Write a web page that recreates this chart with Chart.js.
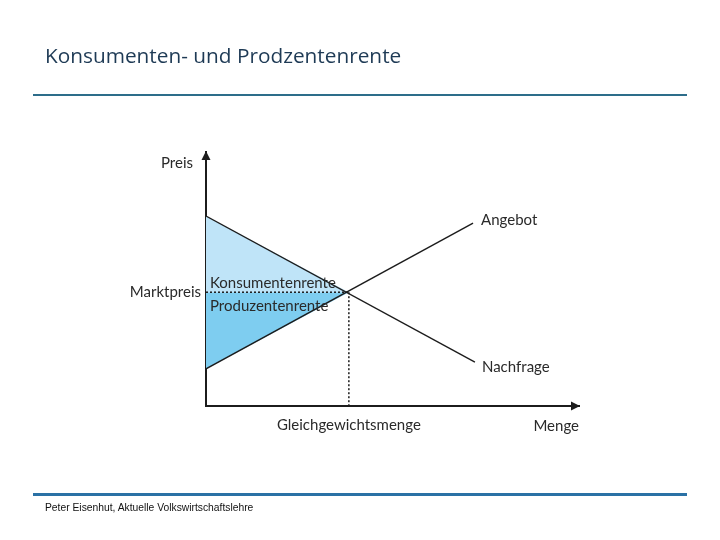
<!DOCTYPE html>
<html>
<head>
<meta charset="utf-8">
<script src="https://cdn.jsdelivr.net/npm/chart.js@4.4.1/dist/chart.umd.min.js"></script>
<style>
  html, body { margin: 0; padding: 0; background: #ffffff; }
  #wrap { position: relative; width: 720px; height: 540px; overflow: hidden; }
  #c { position: absolute; left: 0; top: 0; }
  .title { position: absolute; left: 45px; top: 45px; font: 20.8px "Open Sans", "Liberation Sans", sans-serif; line-height: 20px; color: #1e3a55; white-space: nowrap; }
  .rule-top { position: absolute; left: 33px; top: 94px; width: 654px; height: 2px; background: #2d6d8a; }
  .rule-bottom { position: absolute; left: 33px; top: 493px; width: 654px; height: 3px; background: #2a71a5; }
  .footer { position: absolute; left: 45px; top: 503px; font: 10.3px "Liberation Sans", Arial, sans-serif; line-height: 10px; color: #111; white-space: nowrap; }
</style>
</head>
<body>
<div id="wrap">
  <canvas id="c" width="720" height="540"></canvas>
  <div class="title">Konsumenten- und Prodzentenrente</div>
  <div class="rule-top"></div>
  <div class="rule-bottom"></div>
  <div class="footer">Peter Eisenhut, Aktuelle Volkswirtschaftslehre</div>
</div>
<script>
// ---- data ----
const quantityRange = [0, 100];
const priceRange = [0, 100];
const demandQty = [0, 72.1];
const demandPrice = [74.8, 17.3];
const supplyQty = [0, 71.6];
const supplyPrice = [14.6, 72.0];
const equilibriumQty = 38.3;
const equilibriumPrice = 44.8;
const xTickLabels = ['Gleichgewichtsmenge'];
const yTickLabels = ['Marktpreis'];
const axisTitles = ['Menge', 'Preis'];
const curveLabels = ['Nachfrage', 'Angebot'];
const surplusLabels = ['Konsumentenrente', 'Produzentenrente'];

const FONT = 'Lato, "Liberation Sans", sans-serif';
const TEXT = '#2a2a2a';
const INK = '#1c1c1c';

const pts = (xs, ys) => xs.map((x, i) => ({ x: x, y: ys[i] }));

const consumerTri = [{ x: demandQty[0], y: demandPrice[0] }, { x: equilibriumQty, y: equilibriumPrice }];
const producerTri = [{ x: supplyQty[0], y: supplyPrice[0] }, { x: equilibriumQty, y: equilibriumPrice }];

const decorPlugin = {
  id: 'decor',
  afterDatasetsDraw(chart) {
    const ctx = chart.ctx;
    const xs = chart.scales.x, ys = chart.scales.y;
    const x0 = xs.getPixelForValue(quantityRange[0]);
    const x1 = xs.getPixelForValue(quantityRange[1]);
    const y0 = ys.getPixelForValue(priceRange[0]);
    const y1 = ys.getPixelForValue(priceRange[1]);
    ctx.save();
    // arrow heads
    ctx.fillStyle = INK;
    ctx.beginPath();
    ctx.moveTo(x0, y1 - 1);
    ctx.lineTo(x0 - 4.5, y1 + 8);
    ctx.lineTo(x0 + 4.5, y1 + 8);
    ctx.closePath();
    ctx.fill();
    ctx.beginPath();
    ctx.moveTo(x1 + 1, y0);
    ctx.lineTo(x1 - 8, y0 - 4.5);
    ctx.lineTo(x1 - 8, y0 + 4.5);
    ctx.closePath();
    ctx.fill();

    ctx.fillStyle = TEXT;
    ctx.font = '15px ' + FONT;
    // axis titles
    ctx.textAlign = 'right';
    ctx.textBaseline = 'alphabetic';
    ctx.fillText(axisTitles[1], x0 - 13, y1 + 16);
    ctx.fillText(axisTitles[0], x1, y0 + 25);
    // curve labels
    ctx.textAlign = 'left';
    const dEndX = xs.getPixelForValue(demandQty[1]);
    const dEndY = ys.getPixelForValue(demandPrice[1]);
    const sEndX = xs.getPixelForValue(supplyQty[1]);
    const sEndY = ys.getPixelForValue(supplyPrice[1]);
    ctx.fillText(curveLabels[0], dEndX + 7, dEndY + 10);
    ctx.fillText(curveLabels[1], sEndX + 8, sEndY + 2);
    // surplus labels
    const eqY = ys.getPixelForValue(equilibriumPrice);
    ctx.fillText(surplusLabels[0], x0 + 4, eqY - 4);
    ctx.fillText(surplusLabels[1], x0 + 4, eqY + 19);
    ctx.restore();
  }
};

new Chart(document.getElementById('c'), {
  type: 'line',
  data: {
    datasets: [
      { data: consumerTri, fill: { value: equilibriumPrice }, backgroundColor: '#bfe4f8', borderWidth: 0, borderColor: 'rgba(0,0,0,0)', order: 5 },
      { data: producerTri, fill: { value: equilibriumPrice }, backgroundColor: '#7ecdf0', borderWidth: 0, borderColor: 'rgba(0,0,0,0)', order: 5 },
      { data: pts(demandQty, demandPrice), borderColor: INK, borderWidth: 1.4, fill: false, order: 1 },
      { data: pts(supplyQty, supplyPrice), borderColor: INK, borderWidth: 1.4, fill: false, order: 1 },
      { data: [{ x: quantityRange[0], y: equilibriumPrice }, { x: equilibriumQty, y: equilibriumPrice }], borderColor: INK, borderWidth: 1.5, borderDash: [2, 2], fill: false, order: 2 },
      { data: [{ x: equilibriumQty, y: equilibriumPrice }, { x: equilibriumQty, y: priceRange[0] }], borderColor: INK, borderWidth: 1.5, borderDash: [2, 2], fill: false, order: 2 }
    ]
  },
  options: {
    responsive: false,
    animation: false,
    devicePixelRatio: 1,
    events: [],
    layout: { padding: { left: 0, top: 152, right: 141, bottom: 0 } },
    elements: { point: { radius: 0 }, line: { tension: 0 } },
    plugins: { legend: { display: false }, tooltip: { enabled: false }, title: { display: false } },
    scales: {
      x: {
        type: 'linear', min: quantityRange[0], max: quantityRange[1],
        grid: { display: false, drawTicks: false },
        border: { display: true, color: INK, width: 2 },
        afterBuildTicks: (s) => { s.ticks = [{ value: equilibriumQty }]; },
        afterFit: (s) => { s.height = 134; },
        ticks: { autoSkip: false, maxRotation: 0, padding: 10, color: TEXT, font: { family: FONT, size: 15 }, callback: (v, i) => xTickLabels[i] }
      },
      y: {
        type: 'linear', min: priceRange[0], max: priceRange[1],
        grid: { display: false, drawTicks: false },
        border: { display: true, color: INK, width: 2 },
        afterBuildTicks: (s) => { s.ticks = [{ value: equilibriumPrice }]; },
        afterFit: (s) => { s.width = 206; },
        ticks: { autoSkip: false, padding: 5, color: TEXT, font: { family: FONT, size: 15 }, callback: (v, i) => yTickLabels[i] }
      }
    }
  },
  plugins: [decorPlugin]
});
</script>
</body>
</html>
